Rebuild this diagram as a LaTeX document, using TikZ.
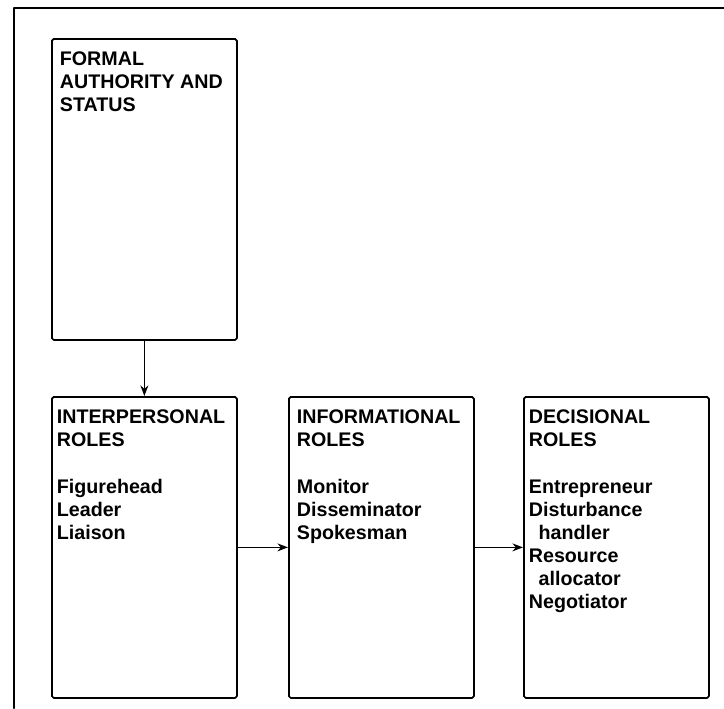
\documentclass[tikz,border=0pt]{standalone}
\usepackage{fontspec}
\setmainfont{Liberation Sans}
\usetikzlibrary{arrows.meta,positioning}
\tikzstyle{every node}=[font=\fontsize{11.2}{13.1}\selectfont\bfseries]
\tikzstyle{every path}=[line width=1pt,line cap=round,line join=round]
\tikzstyle{rolebox}=[draw,rectangle,rounded corners=1pt,minimum width=185*0.02cm,minimum height=301*0.02cm,inner sep=0pt,anchor=north west]
\tikzstyle{roletext}=[anchor=north west,align=left,inner sep=0pt]
\tikzstyle{flow}=[-{Stealth[length=6pt,width=4.5pt]}]

\begin{document}
\begin{tikzpicture}[x=0.02cm,y=-0.02cm]
  \useasboundingbox (0,0) rectangle (724,708);
  \draw[line width=1.3pt] (724,8)--(14,8)--(14,708);
  \node[rolebox] (formal) at (51,38) {};
  \node[rolebox] (inter) at (51,396) {};
  \node[rolebox] (info) at (288,396) {};
  \node[rolebox] (decis) at (523,396) {};
  \node[roletext] (formaltxt) at ([shift={(8,13)}]formal.north west)
    {FORMAL\\AUTHORITY AND\\STATUS};
  \node[roletext] (intertxt) at ([shift={(5,13)}]inter.north west)
    {INTERPERSONAL\\ROLES\\[13.5pt]Figurehead\\Leader\\Liaison};
  \node[roletext] (infotxt) at ([shift={(8,13)}]info.north west)
    {INFORMATIONAL\\ROLES\\[13.5pt]Monitor\\Disseminator\\Spokesman};
  \node[roletext] (decistxt) at ([shift={(5,13)}]decis.north west)
    {DECISIONAL\\ROLES\\[13.5pt]Entrepreneur\\Disturbance\\\hspace{0.5em}handler\\Resource\\\hspace{0.5em}allocator\\Negotiator};
  \draw[flow] (formal)--(inter);
  \draw[flow] (inter)--(info);
  \draw[flow] (info)--(decis);
\end{tikzpicture}
\end{document}
